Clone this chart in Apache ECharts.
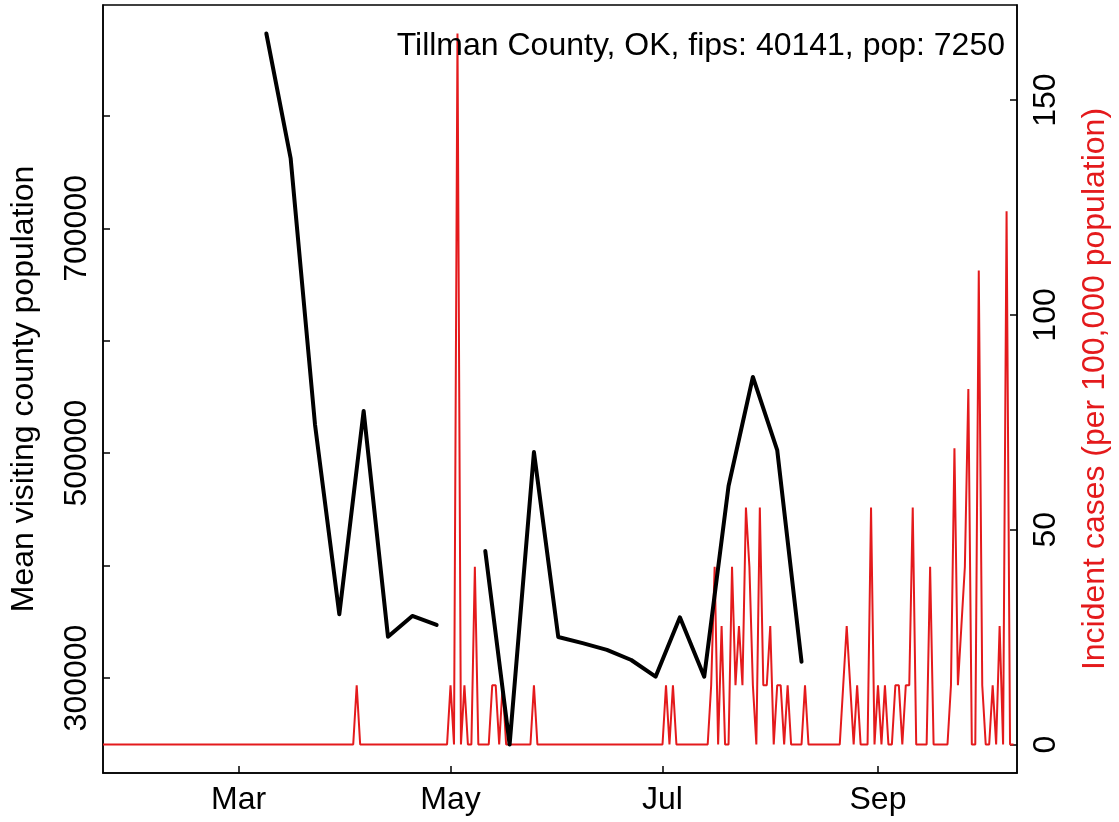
<!DOCTYPE html>
<html><head><meta charset="utf-8">
<script src="https://cdn.jsdelivr.net/npm/echarts@6/dist/echarts.min.js"></script>
<style>html,body{margin:0;padding:0;background:#fff}#c{width:1119px;height:822px}</style>
</head><body><div id="c"></div>
<script>
// ---------------- data ----------------
const chartTitle = 'Tillman County, OK, fips: 40141, pop: 7250';
const leftAxisTitle = 'Mean visiting county population';
const rightAxisTitle = 'Incident cases (per 100,000 population)';

// daily incident cases per 100,000, starting 2020-01-22
const caseStartDate = '2020-01-22';
const caseValues = [
  0,0,0,0,0,0,0,0,0,0,
  0,0,0,0,0,0,0,0,0,0,
  0,0,0,0,0,0,0,0,0,0,
  0,0,0,0,0,0,0,0,0,0,
  0,0,0,0,0,0,0,0,0,0,
  0,0,0,0,0,0,0,0,0,0,
  0,0,0,0,0,0,0,0,0,0,
  0,0,0,13.79,0,0,0,0,0,0,
  0,0,0,0,0,0,0,0,0,0,
  0,0,0,0,0,0,0,0,0,0,
  13.79,0,165.52,0,13.79,0,0,41.38,0,0,
  0,0,13.79,13.79,0,13.79,0,0,0,0,
  0,0,0,0,13.79,0,0,0,0,0,
  0,0,0,0,0,0,0,0,0,0,
  0,0,0,0,0,0,0,0,0,0,
  0,0,0,0,0,0,0,0,0,0,
  0,0,13.79,0,13.79,0,0,0,0,0,
  0,0,0,0,0,13.79,41.38,0,27.59,0,
  0,41.38,13.79,27.59,13.79,55.17,41.38,13.79,0,55.17,
  13.79,13.79,27.59,0,13.79,13.79,0,13.79,0,0,
  0,0,13.79,0,0,0,0,0,0,0,
  0,0,0,13.79,27.59,13.79,0,13.79,0,0,
  0,55.17,0,13.79,0,13.79,0,0,13.79,13.79,
  0,13.79,13.79,55.17,0,0,0,0,41.38,0,
  0,0,0,0,13.79,68.97,13.79,27.59,41.38,82.76,
  0,0,110.34,13.79,0,0,13.79,0,27.59,0,
  124.14,0,0
];

// weekly mean visiting county population
const visitDates = [
  '2020-03-09','2020-03-16','2020-03-23','2020-03-30','2020-04-06','2020-04-13',
  '2020-04-20','2020-04-27','2020-05-04','2020-05-11','2020-05-18','2020-05-25',
  '2020-06-01','2020-06-08','2020-06-15','2020-06-22','2020-06-29','2020-07-06',
  '2020-07-13','2020-07-20','2020-07-27','2020-08-03','2020-08-10'
];
const visitValues = [
  873400, 762200, 525600, 356700, 537500, 336700,
  355200, 347200, null, 413000, 240800, 501000,
  336500, 331000, 325000, 316000, 301200, 354000,
  301200, 470800, 567800, 502800, 314500
];

const xTickDates = ['2020-03-01','2020-05-01','2020-07-01','2020-09-01'];
const xTickLabels = ['Mar','May','Jul','Sep'];
const xRange = ['2020-01-22','2020-10-11'];
const leftTickValues = [300000,400000,500000,600000,700000,800000];
const leftLabelValues = [300000,500000,700000];
const leftRange = [215480, 898754];
const rightTickValues = [0,50,100,150];
const rightRange = [-6.62, 172.14];

// ---------------- chart ----------------
function toTime(s){ const p = s.split('-').map(Number); return Date.UTC(p[0], p[1]-1, p[2]); }
const sp = caseStartDate.split('-').map(Number);
const caseData = caseValues.map((v,i) => [Date.UTC(sp[0], sp[1]-1, sp[2]+i), v]);
const visitData = visitDates.map((d,i) => [toTime(d), visitValues[i]]);
const xTicks = xTickDates.map(toTime);

const FONT = 'Liberation Sans';
const FS = 32;
const RED = '#e41a1c';
const plain = v => String(v);

const chart = echarts.init(document.getElementById('c'), null, {renderer:'canvas'});
chart.setOption({
  animation: false,
  backgroundColor: '#fff',
  grid: {left: 99, right: 98, top: 5, bottom: 49, show: true, borderColor: '#000', borderWidth: 1.5, containLabel: false},
  xAxis: {
    type: 'value', min: toTime(xRange[0]), max: toTime(xRange[1]),
    axisLine: {show: true, onZero: false, lineStyle: {color: '#000', width: 1.5}},
    axisTick: {show: true, inside: true, length: 7, lineStyle: {color: '#000', width: 1.5}, customValues: xTicks},
    axisLabel: {customValues: xTicks, fontFamily: FONT, fontSize: FS, color: '#000', margin: 11,
      formatter: v => { const i = xTicks.indexOf(v); return i >= 0 ? xTickLabels[i] : ''; }},
    splitLine: {show: false}
  },
  yAxis: [
    {
      type: 'value', position: 'left', min: leftRange[0], max: leftRange[1],
      axisLine: {show: true, onZero: false, lineStyle: {color: '#000', width: 1.5}},
      axisTick: {show: true, inside: true, length: 7, lineStyle: {color: '#000', width: 1.5}, customValues: leftTickValues},
      axisLabel: {customValues: leftLabelValues, rotate: 90, fontFamily: FONT, fontSize: FS, color: '#000', margin: 10, formatter: plain},
      splitLine: {show: false},
      name: leftAxisTitle, nameLocation: 'middle', nameRotate: 90, nameGap: 63,
      nameTextStyle: {fontFamily: FONT, fontSize: FS, color: '#000'}
    },
    {
      type: 'value', position: 'right', min: rightRange[0], max: rightRange[1],
      axisLine: {show: true, onZero: false, lineStyle: {color: '#000', width: 1.5}},
      axisTick: {show: true, inside: true, length: 7, lineStyle: {color: '#000', width: 1.5}, customValues: rightTickValues},
      axisLabel: {customValues: rightTickValues, rotate: 90, fontFamily: FONT, fontSize: FS, color: '#000', margin: 13, formatter: plain},
      splitLine: {show: false},
      name: rightAxisTitle, nameLocation: 'middle', nameRotate: 90, nameGap: 62,
      nameTextStyle: {fontFamily: FONT, fontSize: FS, color: RED}
    }
  ],
  graphic: [{
    type: 'text', right: 114, top: 30, z: 10,
    style: {text: chartTitle, font: FS + 'px "' + FONT + '"', fill: '#000'}
  }],
  series: [
    {type: 'line', yAxisIndex: 1, data: caseData, showSymbol: false, z: 2,
     lineStyle: {color: RED, width: 2}},
    {type: 'line', yAxisIndex: 0, data: visitData, showSymbol: false, connectNulls: false, z: 3,
     lineStyle: {color: '#000', width: 4, cap: 'round', join: 'round'}}
  ]
});
</script>
</body></html>
